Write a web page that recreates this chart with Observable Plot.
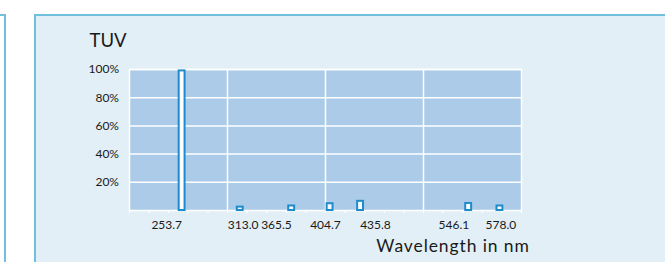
<!DOCTYPE html>
<html>
<head>
<meta charset="utf-8">
<script src="https://cdn.jsdelivr.net/npm/d3@7"></script>
<script src="https://cdn.jsdelivr.net/npm/@observablehq/plot@0.6"></script>
<style>
  html, body { margin: 0; padding: 0; background: #ffffff; }
  #wrap { position: relative; width: 665px; height: 262px; overflow: hidden; background: #ffffff; }
  .panel { position: absolute; box-sizing: border-box; border: 2px solid #72bedf; }
  #p1 { left: -200px; top: 13.5px; width: 206px; height: 400px; background: #ffffff; }
  #p2 { left: 33.5px; top: 13.5px; width: 800px; height: 400px; background: #e2eff6; }
  #chart { position: absolute; left: 0; top: 0; }
  #chart svg { background: transparent; }
</style>
</head>
<body>
<div id="wrap">
  <div class="panel" id="p1"></div>
  <div class="panel" id="p2"></div>
  <div id="chart"></div>
</div>
<script>
// Data (relative intensity, % of the 253.7 nm line)
const wavelengths = [253.7, 313.0, 365.5, 404.7, 435.8, 546.1, 578.0];
const intensity   = [99, 2.4, 3.2, 4.8, 6.5, 5.0, 3.2];
// Tick labels and where they sit on the wavelength axis (nm)
const tickLabels  = ["253.7", "313.0", "365.5", "404.7", "435.8", "546.1", "578.0"];
const tickLabelAt = [238, 316, 350, 400, 451, 531, 579];
const yTicks      = [20, 40, 60, 80, 100];
const xGrid       = [300, 400, 500];
const xMinor      = d3.range(200, 601, 20);
const title       = "TUV";
const xLabel      = "Wavelength in nm";

const data = wavelengths.map((w, i) => ({w, v: intensity[i]}));
const labelMap = new Map(tickLabelAt.map((t, i) => [t, tickLabels[i]]));
const halfW = 3;

const font = "Lato, 'Open Sans', sans-serif";
const ink = "#1a1a1a";

const plot = Plot.plot({
  width: 665,
  height: 262,
  marginLeft: 129,
  marginRight: 144,
  marginTop: 69,
  marginBottom: 52,
  style: {fontFamily: font, fontSize: "12px", background: "transparent", color: ink},
  x: {domain: [200, 600]},
  y: {domain: [0, 100]},
  marks: [
    Plot.frame({fill: "#abcbe9", stroke: null}),
    Plot.gridY(yTicks, {stroke: "white", strokeOpacity: 1, strokeWidth: 1.5}),
    Plot.gridX(xGrid, {stroke: "white", strokeOpacity: 1, strokeWidth: 1.5}),
    Plot.frame({stroke: "white", strokeWidth: 1.5}),
    Plot.axisX(xMinor, {tickSize: 3, stroke: "white", strokeWidth: 1.2, tickFormat: () => "", label: null}),
    Plot.axisX(tickLabelAt, {tickSize: 0, tickPadding: 10, fill: ink,
      tickFormat: d => labelMap.get(d), label: null}),
    Plot.axisY(yTicks, {tickSize: 0, tickPadding: 10.5, fill: ink,
      tickFormat: d => d + "%", label: null}),
    Plot.rectY(data, {
      x1: d => d.w - halfW, x2: d => d.w + halfW, y1: 0, y2: "v",
      fill: "white", stroke: "#1e8bcb", strokeWidth: 2
    }),
    Plot.text([title], {frameAnchor: "top-left", textAnchor: "start", lineAnchor: "bottom",
      dx: -40, dy: -22.3, fontSize: 18.5, fill: ink}),
    Plot.text([xLabel], {frameAnchor: "bottom-right", textAnchor: "end", lineAnchor: "bottom",
      dx: 8.3, dy: 41.7, fontSize: 17.5, fill: ink})
  ]
});
d3.select(plot).selectAll("text")
  .filter(function() { return this.textContent === xLabel; })
  .attr("letter-spacing", "0.9px");
document.getElementById("chart").appendChild(plot);
</script>
</body>
</html>
